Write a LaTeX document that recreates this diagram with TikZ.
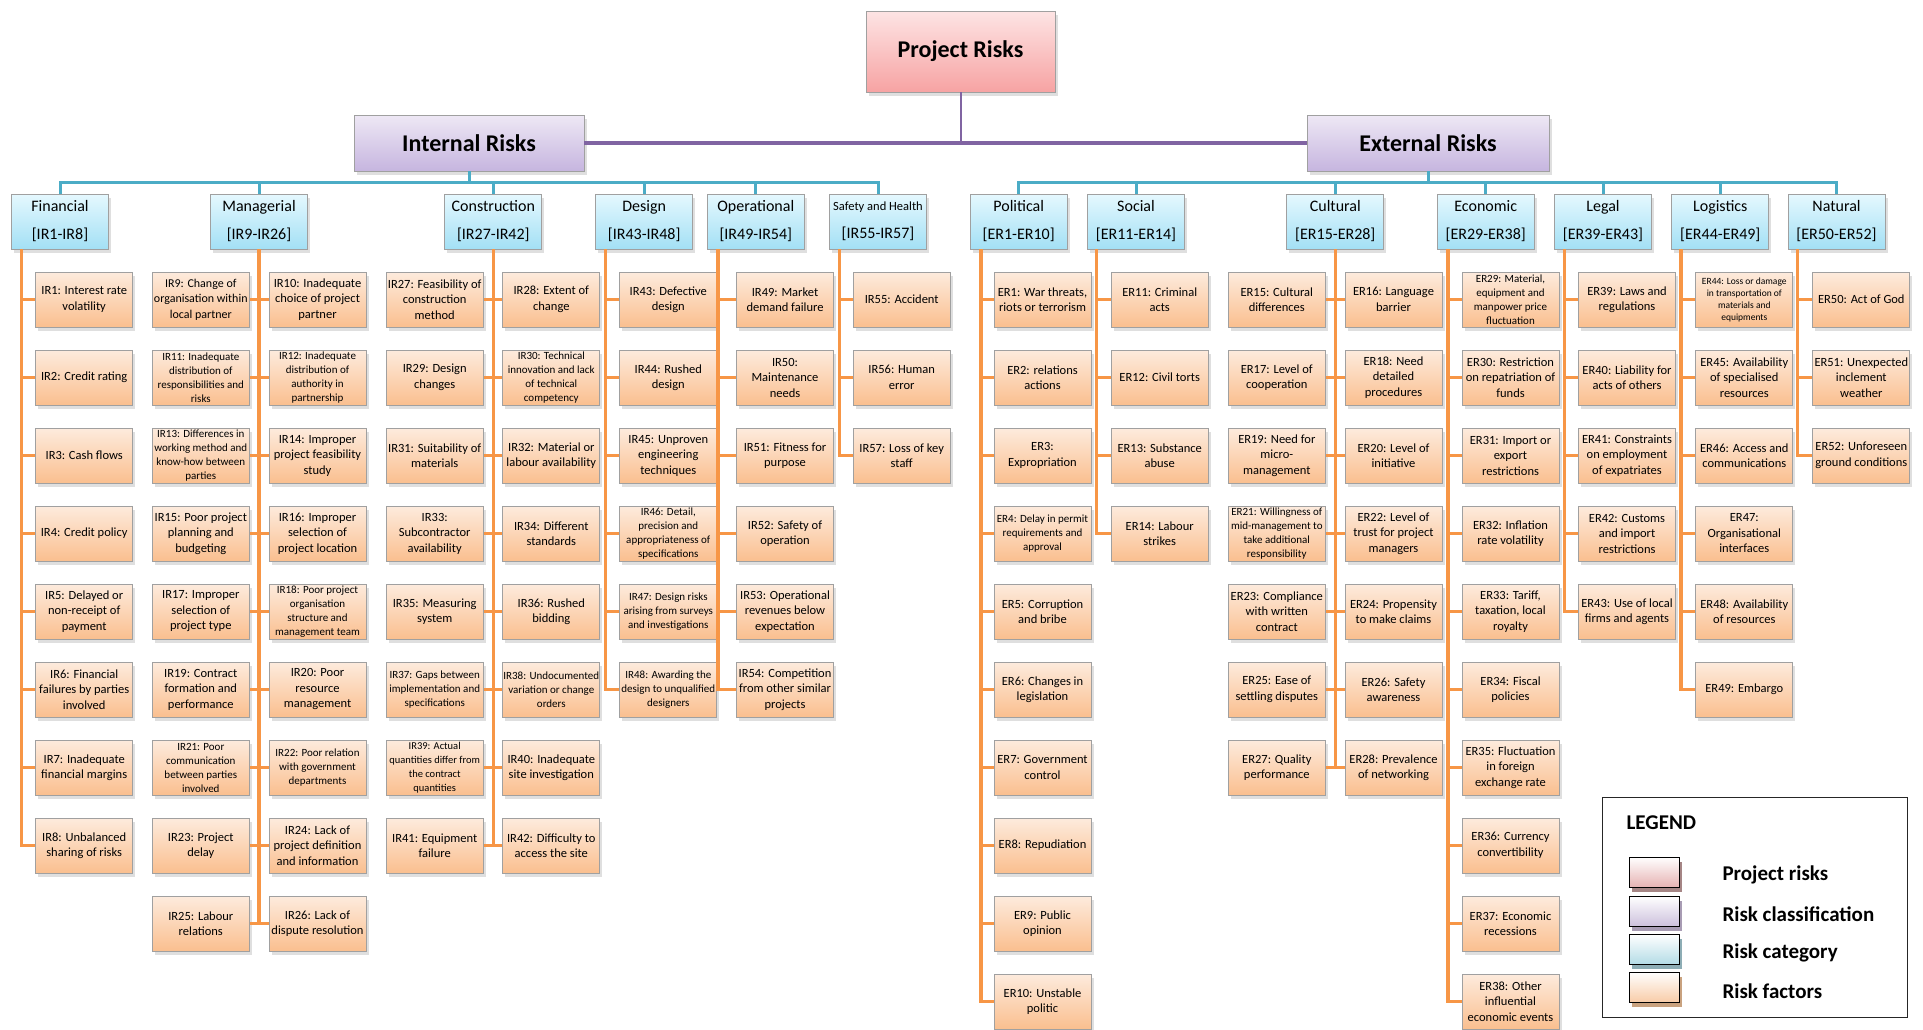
\documentclass[tikz,border=0pt]{standalone}
\usepackage{fontspec}
\setmainfont{Carlito}
\usetikzlibrary{shadows}
\definecolor{pur}{HTML}{8064A2}
\definecolor{blu}{HTML}{4BACC6}
\definecolor{ora}{HTML}{F79646}
\definecolor{fTop}{HTML}{FDEBDD}
\definecolor{fBot}{HTML}{FABF8F}
\definecolor{cTop}{HTML}{E5F8FE}
\definecolor{cBot}{HTML}{A3E0F5}
\definecolor{kTop}{HTML}{EEE8F5}
\definecolor{kBot}{HTML}{C6B5DF}
\definecolor{pTop}{HTML}{FDE4E4}
\definecolor{pBot}{HTML}{F7A3A3}
\definecolor{edge}{HTML}{A0A0A0}
\definecolor{swP}{HTML}{E6B3B3}
\definecolor{swK}{HTML}{CDC1DD}
\definecolor{swC}{HTML}{B4DCE6}
\definecolor{swF}{HTML}{F8CCA8}
\definecolor{shP}{HTML}{A58585}
\definecolor{shK}{HTML}{A89CB4}
\definecolor{shC}{HTML}{8DADB5}
\definecolor{shF}{HTML}{C9A27F}
\newcommand\fsN{\fontsize{12.5}{15.5}\selectfont}
\newcommand\fsS{\fontsize{11}{14}\selectfont}
\newcommand\fsT{\fontsize{9.5}{12}\selectfont}
\newcommand\rf[5][]{\node[factor,#1] (#2) at (#3,#4) {#5};}
\tikzset{
 boxbase/.style={draw=edge, line width=0.7pt, inner sep=0pt, align=center,
   drop shadow={shadow xshift=2.5pt, shadow yshift=-3.5pt, opacity=0.25}},
 factor/.style={boxbase, top color=fTop, bottom color=fBot, minimum width=97, minimum height=55, font=\fsN},
 fsmall/.style={font=\fsS},
 ftiny/.style={font=\fsT},
 cat/.style={boxbase, top color=cTop, bottom color=cBot, minimum width=97, minimum height=55, font=\fontsize{16}{28}\selectfont},
 cls/.style={boxbase, top color=kTop, bottom color=kBot, minimum height=56, font=\bfseries\fontsize{24}{28}\selectfont},
 proj/.style={boxbase, top color=pTop, bottom color=pBot, minimum width=189, minimum height=81, font=\bfseries\fontsize{24}{28}\selectfont},
 oline/.style={draw=ora, line width=3.3pt},
 bline/.style={draw=blu, line width=3pt},
 swatch/.style={draw=black, line width=0.8pt, minimum width=50, minimum height=30, inner sep=0pt, top color=white},
 legtext/.style={anchor=west, font=\bfseries\fontsize{21}{24}\selectfont},
}
\begin{document}
\begin{tikzpicture}[x=1pt,y=-1pt]
\path[use as bounding box, fill=white] (0,0) rectangle (1923,1029);

% top levels
\node[proj] (proj) at (960.5,51.5) {Project Risks};
\node[cls, minimum width=230] (int) at (469,143) {Internal Risks};
\node[cls, minimum width=242] (ext) at (1428,143) {External Risks};
\draw[draw=pur, line width=4pt] (int.east) -- (ext.west);
\draw[draw=pur, line width=2pt] (proj.south) -- (proj.south |- int.east);

% categories
\node[cat] (cFin) at (60,221.5) {Financial\\{[IR1-IR8]}};
\node[cat] (cMan) at (259,221.5) {Managerial\\{[IR9-IR26]}};
\node[cat] (cCon) at (493.3,221.5) {Construction\\{[IR27-IR42]}};
\node[cat] (cDes) at (644.2,221.5) {Design\\{[IR43-IR48]}};
\node[cat] (cOpe) at (755.8,221.5) {Operational\\{[IR49-IR54]}};
\node[cat] (cSaf) at (878,221.5) {{\fontsize{12.5}{28}\selectfont Safety and Health}\\{[IR55-IR57]}};
\node[cat] (cPol) at (1018.7,221.5) {Political\\{[ER1-ER10]}};
\node[cat] (cSoc) at (1136,221.5) {Social\\{[ER11-ER14]}};
\node[cat] (cCul) at (1335.3,221.5) {Cultural\\{[ER15-ER28]}};
\node[cat] (cEco) at (1485.7,221.5) {Economic\\{[ER29-ER38]}};
\node[cat] (cLeg) at (1603,221.5) {Legal\\{[ER39-ER43]}};
\node[cat] (cLog) at (1720.3,221.5) {Logistics\\{[ER44-ER49]}};
\node[cat] (cNat) at (1836.5,221.5) {Natural\\{[ER50-ER52]}};

\coordinate (ibus) at (469,182);
\coordinate (ebus) at (1428,182);
\draw[bline] (int.south) -- (ibus);
\draw[bline] (cFin.north) |- (ibus) -| (cSaf.north);
\foreach \c in {cMan,cCon,cDes,cOpe} \draw[bline] (\c.north) -- (\c.north |- ibus);
\draw[bline] (ext.south) -- (ebus);
\draw[bline] (cPol.north) |- (ebus) -| (cNat.north);
\foreach \c in {cSoc,cCul,cEco,cLeg,cLog} \draw[bline] (\c.north) -- (\c.north |- ebus);

% Financial
\rf{ir1}{84.2}{299.5}{IR1: Interest rate\\volatility}
\rf{ir2}{84.2}{377.5}{IR2: Credit rating}
\rf{ir3}{84.2}{455.5}{IR3: Cash flows}
\rf{ir4}{84.2}{533.5}{IR4: Credit policy}
\rf{ir5}{84.2}{611.5}{IR5: Delayed or\\non-receipt of\\payment}
\rf{ir6}{84.2}{689.5}{IR6: Financial\\failures by parties\\involved}
\rf{ir7}{84.2}{767.5}{IR7: Inadequate\\financial margins}
\rf{ir8}{84.2}{845.5}{IR8: Unbalanced\\sharing of risks}

% Managerial
\rf[font=\fontsize{12}{15.5}\selectfont]{ir9}{200.8}{299.5}{IR9: Change of\\organisation within\\local partner}
\rf{ir10}{317.5}{299.5}{IR10: Inadequate\\choice of project\\partner}
\rf[fsmall]{ir11}{200.8}{377.5}{IR11: Inadequate\\distribution of\\responsibilities and\\risks}
\rf[fsmall]{ir12}{317.5}{377.5}{IR12: Inadequate\\distribution of\\authority in\\partnership}
\rf[fsmall]{ir13}{200.8}{455.5}{IR13: Differences in\\working method and\\know-how between\\parties}
\rf{ir14}{317.5}{455.5}{IR14: Improper\\project feasibility\\study}
\rf{ir15}{200.8}{533.5}{IR15: Poor project\\planning and\\budgeting}
\rf{ir16}{317.5}{533.5}{IR16: Improper\\selection of\\project location}
\rf{ir17}{200.8}{611.5}{IR17: Improper\\selection of\\project type}
\rf[fsmall]{ir18}{317.5}{611.5}{IR18: Poor project\\organisation\\structure and\\management team}
\rf{ir19}{200.8}{689.5}{IR19: Contract\\formation and\\performance}
\rf{ir20}{317.5}{689.5}{IR20: Poor\\resource\\management}
\rf[fsmall]{ir21}{200.8}{767.5}{IR21: Poor\\communication\\between parties\\involved}
\rf[fsmall]{ir22}{317.5}{767.5}{IR22: Poor relation\\with government\\departments}
\rf{ir23}{200.8}{845.5}{IR23: Project\\delay}
\rf{ir24}{317.5}{845.5}{IR24: Lack of\\project definition\\and information}
\rf{ir25}{200.8}{923.5}{IR25: Labour\\relations}
\rf{ir26}{317.5}{923.5}{IR26: Lack of\\dispute resolution}

% Construction
\rf{ir27}{434.7}{299.5}{IR27: Feasibility of\\construction\\method}
\rf{ir28}{551.3}{299.5}{IR28: Extent of\\change}
\rf{ir29}{434.7}{377.5}{IR29: Design\\changes}
\rf[fsmall]{ir30}{551.3}{377.5}{IR30: Technical\\innovation and lack\\of technical\\competency}
\rf{ir31}{434.7}{455.5}{IR31: Suitability of\\materials}
\rf{ir32}{551.3}{455.5}{IR32: Material or\\labour availability}
\rf{ir33}{434.7}{533.5}{IR33:\\Subcontractor\\availability}
\rf{ir34}{551.3}{533.5}{IR34: Different\\standards}
\rf{ir35}{434.7}{611.5}{IR35: Measuring\\system}
\rf{ir36}{551.3}{611.5}{IR36: Rushed\\bidding}
\rf[fsmall]{ir37}{434.7}{689.5}{IR37: Gaps between\\implementation and\\specifications}
\rf[fsmall]{ir38}{551.3}{689.5}{IR38: Undocumented\\variation or change\\orders}
\rf[font=\fontsize{10.5}{14}\selectfont]{ir39}{434.7}{767.5}{IR39: Actual\\quantities differ from\\the contract\\quantities}
\rf{ir40}{551.3}{767.5}{IR40: Inadequate\\site investigation}
\rf{ir41}{434.7}{845.5}{IR41: Equipment\\failure}
\rf{ir42}{551.3}{845.5}{IR42: Difficulty to\\access the site}

% Design
\rf{ir43}{668.3}{299.5}{IR43: Defective\\design}
\rf{ir44}{668.3}{377.5}{IR44: Rushed\\design}
\rf{ir45}{668.3}{455.5}{IR45: Unproven\\engineering\\techniques}
\rf[fsmall]{ir46}{668.3}{533.5}{IR46: Detail,\\precision and\\appropriateness of\\specifications}
\rf[fsmall]{ir47}{668.3}{611.5}{IR47: Design risks\\arising from surveys\\and investigations}
\rf[fsmall]{ir48}{668.3}{689.5}{IR48: Awarding the\\design to unqualified\\designers}

% Operational
\rf{ir49}{785}{299.5}{IR49: Market\\demand failure}
\rf{ir50}{785}{377.5}{IR50:\\Maintenance\\needs}
\rf{ir51}{785}{455.5}{IR51: Fitness for\\purpose}
\rf{ir52}{785}{533.5}{IR52: Safety of\\operation}
\rf{ir53}{785}{611.5}{IR53: Operational\\revenues below\\expectation}
\rf{ir54}{785}{689.5}{IR54: Competition\\from other similar\\projects}

% Safety and Health
\rf{ir55}{901.7}{299.5}{IR55: Accident}
\rf{ir56}{901.7}{377.5}{IR56: Human\\error}
\rf{ir57}{901.7}{455.5}{IR57: Loss of key\\staff}

% Political
\rf{er1}{1042.5}{299.5}{ER1: War threats,\\riots or terrorism}
\rf{er2}{1042.5}{377.5}{ER2: relations\\actions}
\rf{er3}{1042.5}{455.5}{ER3:\\Expropriation}
\rf[fsmall]{er4}{1042.5}{533.5}{ER4: Delay in permit\\requirements and\\approval}
\rf{er5}{1042.5}{611.5}{ER5: Corruption\\and bribe}
\rf{er6}{1042.5}{689.5}{ER6: Changes in\\legislation}
\rf{er7}{1042.5}{767.5}{ER7: Government\\control}
\rf{er8}{1042.5}{845.5}{ER8: Repudiation}
\rf{er9}{1042.5}{923.5}{ER9: Public\\opinion}
\rf{er10}{1042.5}{1001.5}{ER10: Unstable\\politic}

% Social
\rf{er11}{1159.7}{299.5}{ER11: Criminal\\acts}
\rf{er12}{1159.7}{377.5}{ER12: Civil torts}
\rf{er13}{1159.7}{455.5}{ER13: Substance\\abuse}
\rf{er14}{1159.7}{533.5}{ER14: Labour\\strikes}

% Cultural
\rf{er15}{1276.8}{299.5}{ER15: Cultural\\differences}
\rf{er16}{1393.5}{299.5}{ER16: Language\\barrier}
\rf{er17}{1276.8}{377.5}{ER17: Level of\\cooperation}
\rf{er18}{1393.5}{377.5}{ER18: Need\\detailed\\procedures}
\rf{er19}{1276.8}{455.5}{ER19: Need for\\micro-\\management}
\rf{er20}{1393.5}{455.5}{ER20: Level of\\initiative}
\rf[fsmall]{er21}{1276.8}{533.5}{ER21: Willingness of\\mid-management to\\take additional\\responsibility}
\rf{er22}{1393.5}{533.5}{ER22: Level of\\trust for project\\managers}
\rf{er23}{1276.8}{611.5}{ER23: Compliance\\with written\\contract}
\rf{er24}{1393.5}{611.5}{ER24: Propensity\\to make claims}
\rf{er25}{1276.8}{689.5}{ER25: Ease of\\settling disputes}
\rf{er26}{1393.5}{689.5}{ER26: Safety\\awareness}
\rf{er27}{1276.8}{767.5}{ER27: Quality\\performance}
\rf{er28}{1393.5}{767.5}{ER28: Prevalence\\of networking}

% Economic
\rf[fsmall]{er29}{1510.5}{299.5}{ER29: Material,\\equipment and\\manpower price\\fluctuation}
\rf{er30}{1510.5}{377.5}{ER30: Restriction\\on repatriation of\\funds}
\rf{er31}{1510.5}{455.5}{ER31: Import or\\export\\restrictions}
\rf{er32}{1510.5}{533.5}{ER32: Inflation\\rate volatility}
\rf{er33}{1510.5}{611.5}{ER33: Tariff,\\taxation, local\\royalty}
\rf{er34}{1510.5}{689.5}{ER34: Fiscal\\policies}
\rf{er35}{1510.5}{767.5}{ER35: Fluctuation\\in foreign\\exchange rate}
\rf{er36}{1510.5}{845.5}{ER36: Currency\\convertibility}
\rf{er37}{1510.5}{923.5}{ER37: Economic\\recessions}
\rf{er38}{1510.5}{1001.5}{ER38: Other\\influential\\economic events}

% Legal
\rf{er39}{1627}{299.5}{ER39: Laws and\\regulations}
\rf{er40}{1627}{377.5}{ER40: Liability for\\acts of others}
\rf{er41}{1627}{455.5}{ER41: Constraints\\on employment\\of expatriates}
\rf{er42}{1627}{533.5}{ER42: Customs\\and import\\restrictions}
\rf{er43}{1627}{611.5}{ER43: Use of local\\firms and agents}

% Logistics
\rf[ftiny]{er44}{1744.3}{299.5}{ER44: Loss or damage\\in transportation of\\materials and\\equipments}
\rf{er45}{1744.3}{377.5}{ER45: Availability\\of specialised\\resources}
\rf{er46}{1744.3}{455.5}{ER46: Access and\\communications}
\rf{er47}{1744.3}{533.5}{ER47:\\Organisational\\interfaces}
\rf{er48}{1744.3}{611.5}{ER48: Availability\\of resources}
\rf{er49}{1744.3}{689.5}{ER49: Embargo}

% Natural
\rf{er50}{1861.3}{299.5}{ER50: Act of God}
\rf{er51}{1861.3}{377.5}{ER51: Unexpected\\inclement\\weather}
\rf{er52}{1861.3}{455.5}{ER52: Unforeseen\\ground conditions}

% orange connectors: single-column categories
\coordinate (tFin) at ([xshift=10pt]cFin.south west);
\draw[oline] (tFin) |- (ir8.west);
\foreach \n in {ir1,ir2,ir3,ir4,ir5,ir6,ir7} \draw[oline] (\n.west) -- (\n.west -| tFin);
\coordinate (tDes) at ([xshift=10pt]cDes.south west);
\draw[oline] (tDes) |- (ir48.west);
\foreach \n in {ir43,ir44,ir45,ir46,ir47} \draw[oline] (\n.west) -- (\n.west -| tDes);
\coordinate (tOpe) at ([xshift=11pt]cOpe.south west);
\draw[oline] (tOpe) |- (ir54.west);
\foreach \n in {ir49,ir50,ir51,ir52,ir53} \draw[oline] (\n.west) -- (\n.west -| tOpe);
\coordinate (tSaf) at ([xshift=10pt]cSaf.south west);
\draw[oline] (tSaf) |- (ir57.west);
\foreach \n in {ir55,ir56} \draw[oline] (\n.west) -- (\n.west -| tSaf);
\coordinate (tPol) at ([xshift=11pt]cPol.south west);
\draw[oline] (tPol) |- (er10.west);
\foreach \n in {er1,er2,er3,er4,er5,er6,er7,er8,er9} \draw[oline] (\n.west) -- (\n.west -| tPol);
\coordinate (tSoc) at ([xshift=9.5pt]cSoc.south west);
\draw[oline] (tSoc) |- (er14.west);
\foreach \n in {er11,er12,er13} \draw[oline] (\n.west) -- (\n.west -| tSoc);
\coordinate (tEco) at ([xshift=11pt]cEco.south west);
\draw[oline] (tEco) |- (er38.west);
\foreach \n in {er29,er30,er31,er32,er33,er34,er35,er36,er37} \draw[oline] (\n.west) -- (\n.west -| tEco);
\coordinate (tLeg) at ([xshift=10pt]cLeg.south west);
\draw[oline] (tLeg) |- (er43.west);
\foreach \n in {er39,er40,er41,er42} \draw[oline] (\n.west) -- (\n.west -| tLeg);
\coordinate (tLog) at ([xshift=9.5pt]cLog.south west);
\draw[oline] (tLog) |- (er49.west);
\foreach \n in {er44,er45,er46,er47,er48} \draw[oline] (\n.west) -- (\n.west -| tLog);
\coordinate (tNat) at ([xshift=9.5pt]cNat.south west);
\draw[oline] (tNat) |- (er52.west);
\foreach \n in {er50,er51} \draw[oline] (\n.west) -- (\n.west -| tNat);

% orange connectors: two-column categories
\draw[oline] (cMan.south) -- (cMan.south |- ir25.east);
\foreach \a/\b in {ir9/ir10,ir11/ir12,ir13/ir14,ir15/ir16,ir17/ir18,ir19/ir20,ir21/ir22,ir23/ir24,ir25/ir26} \draw[oline] (\a.east) -- (\b.west);
\draw[oline] (cCon.south) -- (cCon.south |- ir41.east);
\foreach \a/\b in {ir27/ir28,ir29/ir30,ir31/ir32,ir33/ir34,ir35/ir36,ir37/ir38,ir39/ir40,ir41/ir42} \draw[oline] (\a.east) -- (\b.west);
\draw[oline] (cCul.south) -- (cCul.south |- er27.east);
\foreach \a/\b in {er15/er16,er17/er18,er19/er20,er21/er22,er23/er24,er25/er26,er27/er28} \draw[oline] (\a.east) -- (\b.west);

% legend
\node[draw=black!85, line width=1pt, minimum width=305, minimum height=220, inner sep=0pt] (leg) at (1754.5,907) {};
\node[anchor=west, font=\bfseries\fontsize{21}{24}\selectfont] (legt) at (1623,823) {LEGEND};
\node[swatch, bottom color=swP, drop shadow={fill=shP, opacity=1, shadow xshift=3pt, shadow yshift=-4.5pt}] (s1) at (1654,872) {};
\node[swatch, bottom color=swK, drop shadow={fill=shK, opacity=1, shadow xshift=3pt, shadow yshift=-4.5pt}] (s2) at (1654,911) {};
\node[swatch, bottom color=swC, drop shadow={fill=shC, opacity=1, shadow xshift=3pt, shadow yshift=-4.5pt}] (s3) at (1654,949) {};
\node[swatch, bottom color=swF, drop shadow={fill=shF, opacity=1, shadow xshift=3pt, shadow yshift=-4.5pt}] (s4) at (1654,987) {};
\node[legtext] (l1) at (1719,875) {Project risks};
\node[legtext] (l2) at (1719,914) {Risk classification};
\node[legtext] (l3) at (1719,953) {Risk category};
\node[legtext] (l4) at (1719,991) {Risk factors};
\end{tikzpicture}
\end{document}
